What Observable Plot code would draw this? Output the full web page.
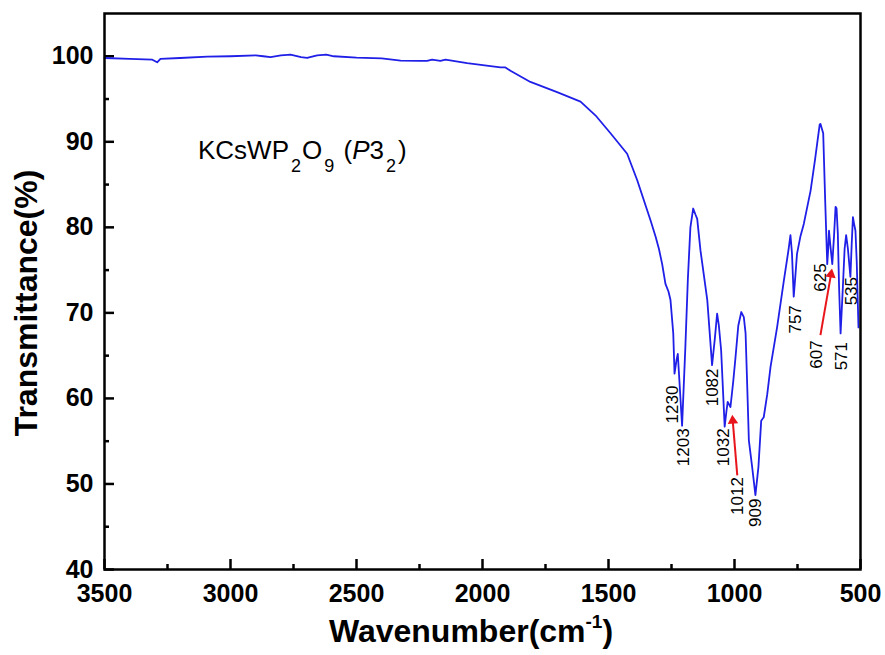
<!DOCTYPE html>
<html><head><meta charset="utf-8">
<script src="https://cdn.jsdelivr.net/npm/d3@7"></script>
<script src="https://cdn.jsdelivr.net/npm/@observablehq/plot@0.6"></script>
<style>
body{margin:0;background:#fff}
svg{font-family:"Liberation Sans",Arial,sans-serif}
</style>
</head><body><div id="chart"></div>
<script>
// ---- data ----
const wavenumber = [3500,3400,3310,3291,3278,3200,3092,3000,2900,2870,2841,2800,2762,2720,2696,2656,2620,2590,2500,2400,2325,2250,2220,2200,2167,2147,2061,1929,1909,1889,1810,1704,1611,1552,1492,1426,1386,1333,1313,1300,1287,1274,1262,1254,1243,1238,1230,1225,1208,1195,1185,1175,1164,1155,1148,1135,1108,1089,1078,1069,1062,1053,1039,1032,1027,1016,1005,996,985,973,963,956,948,943,930,917,905,894,884,870,857,831,804,785,778,772,765,758,752,738,725,698,680,672,662,659,653,648,640,632,628,625,620,612,605,599,595,590,585,579,570,563,557,550,540,535,530,526,520,515,508];
const transmittance = [99.8,99.7,99.6,99.3,99.7,99.8,99.95,100.0,100.1,100.0,99.9,100.1,100.2,99.9,99.8,100.1,100.2,100.0,99.85,99.75,99.5,99.45,99.45,99.6,99.45,99.6,99.2,98.7,98.7,98.3,97.0,95.8,94.7,93.1,91.0,88.6,85.5,80.8,78.9,77.5,75.7,73.4,72.5,71.5,67.6,62.9,64.5,65.2,56.8,66.0,74.0,80.0,82.2,81.5,81.0,77.3,71.5,63.9,67.0,69.9,68.5,65.6,56.7,58.5,59.6,59.0,62.0,64.8,68.5,70.1,69.5,67.6,60.0,55.1,52.0,48.7,52.0,57.4,57.8,60.5,63.7,68.3,73.8,77.5,79.1,77.0,71.9,74.5,76.9,79.0,80.4,84.3,88.0,89.8,92.0,92.1,91.5,91.0,83.0,75.7,77.5,79.6,78.0,75.7,79.0,82.4,82.2,79.3,73.0,67.6,73.0,77.5,79.1,77.5,74.2,78.0,81.2,80.5,79.6,76.0,68.3];

const peakLabels = ["1230","1203","1082","1032","1012","909","757","607","625","571","535"];
const peakLabelX = [1247,1204,1089,1042,989,917,758,673,660,577,534];
const peakLabelY = [61.5,56.5,63.5,56.5,50.8,48.3,70.9,66.8,75.8,66.6,74.2];

const arrowX1 = [989,659];
const arrowY1 = [51.0,67.4];
const arrowX2 = [1007,617];
const arrowY2 = [57.4,74.5];
const arrowAngle = [-4.4,9.5];

const xMajorTicks = [3500,3000,2500,2000,1500,1000,500];
const xMinorTicks = [3250,2750,2250,1750,1250,750];
const yMajorTicks = [40,50,60,70,80,90,100];
const yMinorTicks = [45,55,65,75,85,95];

const xDomain = [3500,500];
const yDomain = [40,105];

// ---- build ----
const spectrum = wavenumber.map((w,i)=>({w, t: transmittance[i]}));
const labels = peakLabels.map((s,i)=>({s, x: peakLabelX[i], y: peakLabelY[i]}));
const arrows = arrowX1.map((d,i)=>({x1: d, y1: arrowY1[i], x2: arrowX2[i], y2: arrowY2[i], a: arrowAngle[i]}));

const W = 885, H = 655, mL = 104, mR = 25, mT = 13, mB = 86;
const pw = W - mL - mR, ph = H - mT - mB;
const blue = "#1f1fe8", red = "#e8161c";

const plot = Plot.plot({
  width: W, height: H,
  marginLeft: mL, marginRight: mR, marginTop: mT, marginBottom: mB,
  x: {domain: xDomain},
  y: {domain: yDomain},
  style: {background: "white", fontFamily: '"Liberation Sans", Arial, sans-serif', color: "black"},
  marks: [
    Plot.axisX(xMajorTicks, {tickSize: 0, tickPadding: 15, fontSize: 25, fontWeight: "bold", label: null, tickFormat: d => String(d)}),
    Plot.axisY(yMajorTicks, {tickSize: 0, tickPadding: 11, fontSize: 25, fontWeight: "bold", label: null, tickFormat: d => String(d)}),
    Plot.tickX(xMajorTicks, {x: d => d, insetTop: ph - 10, stroke: "black", strokeWidth: 2.5}),
    Plot.tickX(xMinorTicks, {x: d => d, insetTop: ph - 5, stroke: "black", strokeWidth: 2.5}),
    Plot.tickY(yMajorTicks, {y: d => d, insetRight: pw - 10, stroke: "black", strokeWidth: 2.5}),
    Plot.tickY(yMinorTicks, {y: d => d, insetRight: pw - 5, stroke: "black", strokeWidth: 2.5}),
    Plot.line(spectrum, {x: "w", y: "t", stroke: blue, strokeWidth: 1.8}),
    Plot.text(labels, {x: "x", y: "y", text: "s", rotate: -90, textAnchor: "end", lineAnchor: "middle", fontSize: 17, fill: "black"}),
    Plot.link(arrows, {x1: "x1", y1: "y1", x2: "x2", y2: "y2", stroke: red, strokeWidth: 2}),
    Plot.dot(arrows, {x: "x2", y: "y2", symbol: "triangle2", r: 5, fill: red, stroke: "none", rotate: "a"}),
    Plot.frame({stroke: "black", strokeWidth: 2.5})
  ]
});

const svg = d3.select(plot);
const xs = plot.scale("x"), ys = plot.scale("y");

// compound title
const title = svg.append("text")
  .attr("x", xs.apply(3127)).attr("y", ys.apply(87.95))
  .attr("text-anchor", "start")
  .attr("font-size", 26).attr("fill", "black");
title.append("tspan").text("KCsWP");
title.append("tspan").attr("dy", 13).attr("dx", 2).attr("font-size", 18).text("2");
title.append("tspan").attr("dy", -13).attr("dx", 1).text("O");
title.append("tspan").attr("dy", 13).attr("dx", 2).attr("font-size", 18).text("9");
title.append("tspan").attr("dy", -13).attr("dx", 2).text(" (");
title.append("tspan").attr("font-style", "italic").text("P");
title.append("tspan").text("3");
title.append("tspan").attr("dy", 13).attr("dx", 2).attr("font-size", 18).text("2");
title.append("tspan").attr("dy", -13).attr("dx", 2).text(")");

// axis titles
const xl = svg.append("text").attr("x", 471).attr("y", 642)
  .attr("text-anchor", "middle").attr("font-size", 32).attr("font-weight", "bold").attr("fill", "black");
xl.append("tspan").text("Wavenumber(cm");
xl.append("tspan").attr("dy", -14).attr("font-size", 19).text("-1");
xl.append("tspan").attr("dy", 14).text(")");

svg.append("text").attr("transform", "translate(37,303) rotate(-90)")
  .attr("text-anchor", "middle").attr("font-size", 32).attr("font-weight", "bold").attr("fill", "black")
  .text("Transmittance(%)");

document.getElementById("chart").appendChild(plot);
</script>
</body></html>
